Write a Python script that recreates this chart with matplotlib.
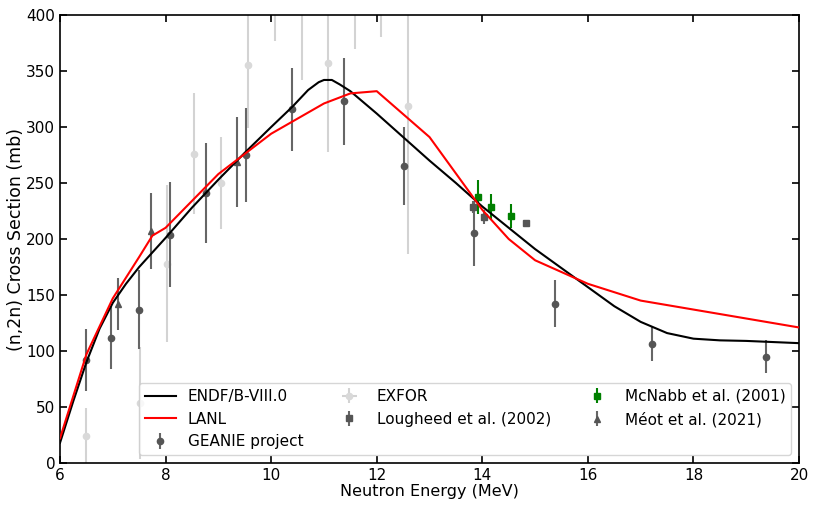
import numpy as np
import matplotlib.pyplot as plt

# ENDF/B-VIII.0 evaluation (smooth curve)
endf_e = [6.0, 6.25, 6.5, 6.75, 7.0, 7.25, 7.5, 7.75, 8.0, 8.5, 9.0, 9.5, 10.0, 10.4,
          10.7, 10.9, 11.0, 11.15, 11.3, 11.5, 12.0, 12.5, 13.0, 13.5, 14.0, 14.5,
          15.0, 15.5, 16.0, 16.5, 17.0, 17.5, 18.0, 18.5, 19.0, 19.5, 20.0]
endf_xs = [18, 55, 90, 120, 143, 160, 175, 188, 201, 228, 253, 277, 300, 318,
           333, 340, 342, 342, 338, 332, 312, 291, 270, 250, 229, 210,
           191, 174, 157, 140, 126, 116, 111, 109.5, 109, 108, 107]

# LANL evaluation
lanl_e = [6.0, 6.5, 7.0, 7.5, 7.75, 8.0, 9.0, 10.0, 11.0, 11.5, 12.0, 13.0, 14.0,
          14.5, 15.0, 16.0, 17.0, 20.0]
lanl_xs = [22, 97, 147, 184, 203, 210, 258, 294, 321, 330, 332, 291, 226,
           200, 181, 160, 145, 121]

# GEANIE project
geanie_e = [6.49, 6.97, 7.5, 8.08, 8.77, 9.52, 10.4, 11.38, 12.52, 13.84, 15.38, 17.21, 19.37]
geanie_xs = [92, 112, 137, 204, 241, 275, 316, 323, 265, 205, 142, 106, 95]
geanie_err = [28, 28, 35, 47, 45, 42, 37, 39, 35, 29, 21, 15, 15]

# EXFOR compilation
exfor_e = [6.49, 7.52, 8.03, 8.54, 9.05, 9.56, 10.07, 10.58, 11.08, 11.58, 12.09, 12.59]
exfor_xs = [24, 54, 178, 276, 250, 355, 430, 410, 357, 425, 435, 319]
exfor_err = [25, 50, 70, 54, 41, 56, 53, 68, 79, 55, 55, 132]

# Lougheed et al. (2002)
lough_e = [13.82, 14.03, 14.83]
lough_xs = [228.5, 219.6, 214]
lough_err = [5, 6, 3]

# McNabb et al. (2001)
mcnabb_e = [13.92, 14.17, 14.54]
mcnabb_xs = [237.5, 228.6, 220.5]
mcnabb_err = [15, 12, 11]

# Meot et al. (2021)
meot_e = [7.1, 7.72, 9.35]
meot_xs = [142, 207, 269]
meot_err = [23, 34, 40]

fig = plt.figure(figsize=(8.3, 5.09), dpi=100)
ax = fig.add_axes([0.0723, 0.0904, 0.8904, 0.8801])

ax.plot(endf_e, endf_xs, color="black", lw=1.5, label="ENDF/B-VIII.0", zorder=5)
ax.plot(lanl_e, lanl_xs, color="red", lw=1.5, label="LANL", zorder=5)

ax.errorbar(geanie_e, geanie_xs, yerr=geanie_err, fmt="o", ms=4.5, color="#555555",
            ecolor="#666666", elinewidth=1.5, label="GEANIE project", zorder=3)
ax.errorbar(exfor_e, exfor_xs, yerr=exfor_err, xerr=0.05, fmt="o", ms=4.5,
            color="#d9d9d9", ecolor="#d3d3d3", elinewidth=1.5, label="EXFOR", zorder=2)
ax.errorbar(lough_e, lough_xs, yerr=lough_err, fmt="s", ms=4.5, color="#555555",
            ecolor="#666666", elinewidth=1.5, label="Lougheed et al. (2002)", zorder=3)
ax.errorbar(mcnabb_e, mcnabb_xs, yerr=mcnabb_err, fmt="s", ms=4.5, color="green",
            elinewidth=1.5, label="McNabb et al. (2001)", zorder=4)
ax.errorbar(meot_e, meot_xs, yerr=meot_err, fmt="^", ms=5, color="#555555",
            ecolor="#666666", elinewidth=1.5, label="Méot et al. (2021)", zorder=3)

ax.set_xlim(6, 20)
ax.set_ylim(0, 400)
ax.set_xticks(np.arange(6, 21, 2))
ax.set_yticks(np.arange(0, 401, 50))
ax.tick_params(direction="in", top=True, right=True, length=5, width=1.2, labelsize=11)
for s in ax.spines.values():
    s.set_linewidth(1.2)

ax.set_xlabel("Neutron Energy (MeV)", fontsize=11.5, labelpad=1)
ax.set_ylabel("(n,2n) Cross Section (mb)", fontsize=12.5, labelpad=1)
ax.legend(loc="lower right", ncol=3, fontsize=11)

fig.savefig("out.png", dpi=100)
